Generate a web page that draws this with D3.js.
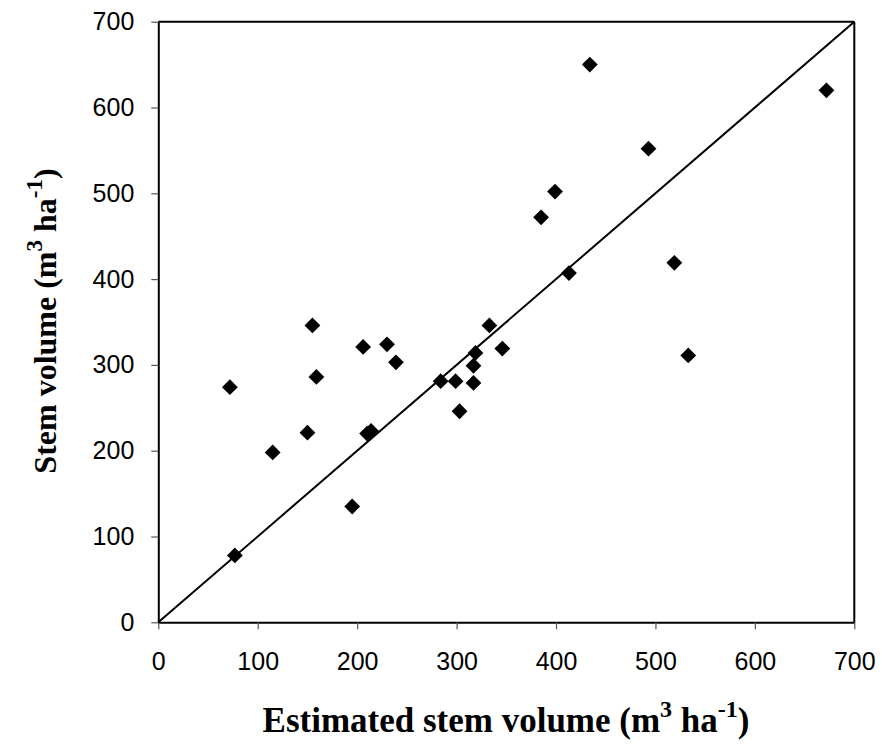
<!DOCTYPE html>
<html>
<head>
<meta charset="utf-8">
<script src="https://cdn.jsdelivr.net/npm/d3@7"></script>
<style>
html, body { margin: 0; padding: 0; background: #fff; }
svg { display: block; }
</style>
</head>
<body>
<svg id="chart" width="886" height="747"></svg>
<script>
// Data: estimated (x) vs observed (y) stem volume
const estimated = [72, 155, 206, 230, 239, 159, 150, 210, 214, 115, 195, 77, 284, 299, 317, 303, 317, 319, 346, 333, 413, 519, 533, 385, 399, 493, 434, 672];
const observed  = [274, 346, 321, 324, 303, 286, 221, 220, 223, 198, 135, 78, 281, 281, 279, 246, 299, 314, 319, 346, 407, 419, 311, 472, 502, 552, 650, 620];
const xTicks = [0, 100, 200, 300, 400, 500, 600, 700];
const yTicks = [0, 100, 200, 300, 400, 500, 600, 700];
const lineDomain = [0, 700];

const svg = d3.select("#chart");
const x = d3.scaleLinear().domain([0, 700]).range([158.3, 854.3]);
const y = d3.scaleLinear().domain([0, 700]).range([622.3, 21.7]);

// plot border (top and right)
svg.append("line").attr("x1", x(0)).attr("x2", x(700)).attr("y1", y(700)).attr("y2", y(700))
  .attr("stroke", "#000").attr("stroke-width", 2);
svg.append("line").attr("x1", x(700)).attr("x2", x(700)).attr("y1", y(0)).attr("y2", y(700))
  .attr("stroke", "#000").attr("stroke-width", 2);

// axes
const xAxis = d3.axisBottom(x).tickValues(xTicks).tickSize(7).tickPadding(23).tickSizeOuter(0);
const yAxis = d3.axisLeft(y).tickValues(yTicks).tickSize(7).tickPadding(17).tickSizeOuter(0);

const gx = svg.append("g").attr("transform", `translate(0,${y(0)})`).call(xAxis);
const gy = svg.append("g").attr("transform", `translate(${x(0)},0)`).call(yAxis);
[gx, gy].forEach(g => {
  g.select(".domain").attr("stroke", "#000").attr("stroke-width", 2);
  g.selectAll(".tick line").attr("stroke", "#555").attr("stroke-width", 1.2);
  g.selectAll(".tick text").attr("font-family", "'Liberation Sans', Arial, sans-serif")
    .attr("font-size", 25).attr("fill", "#000");
});
gx.selectAll(".tick text").attr("dy", "0.71em");

// 1:1 line
svg.append("line")
  .attr("x1", x(lineDomain[0])).attr("y1", y(lineDomain[0]))
  .attr("x2", x(lineDomain[1])).attr("y2", y(lineDomain[1]))
  .attr("stroke", "#000").attr("stroke-width", 2);

// points (diamonds)
const sym = d3.symbol().type(d3.symbolSquare).size(125);
svg.append("g").selectAll("path")
  .data(estimated.map((v, i) => [v, observed[i]]))
  .join("path")
  .attr("d", sym)
  .attr("transform", d => `translate(${x(d[0])},${y(d[1])}) rotate(45)`)
  .attr("fill", "#000");

// axis titles
const xt = svg.append("text")
  .attr("x", 506).attr("y", 732)
  .attr("text-anchor", "middle")
  .attr("font-family", "'Liberation Serif', 'Times New Roman', serif")
  .attr("font-weight", "bold").attr("font-size", 35);
xt.append("tspan").text("Estimated stem volume (m");
xt.append("tspan").attr("dy", -15).attr("font-size", 24).text("3");
xt.append("tspan").attr("dy", 15).text(" ha");
xt.append("tspan").attr("dy", -15).attr("font-size", 24).text("-1");
xt.append("tspan").attr("dy", 15).text(")");

const yt = svg.append("text")
  .attr("transform", "translate(56,321) rotate(-90)")
  .attr("text-anchor", "middle")
  .attr("font-family", "'Liberation Serif', 'Times New Roman', serif")
  .attr("font-weight", "bold").attr("font-size", 32);
yt.append("tspan").text("Stem volume (m");
yt.append("tspan").attr("dy", -14).attr("font-size", 23).text("3");
yt.append("tspan").attr("dy", 14).text(" ha");
yt.append("tspan").attr("dy", -14).attr("font-size", 23).text("-1");
yt.append("tspan").attr("dy", 14).text(")");
</script>
</body>
</html>
